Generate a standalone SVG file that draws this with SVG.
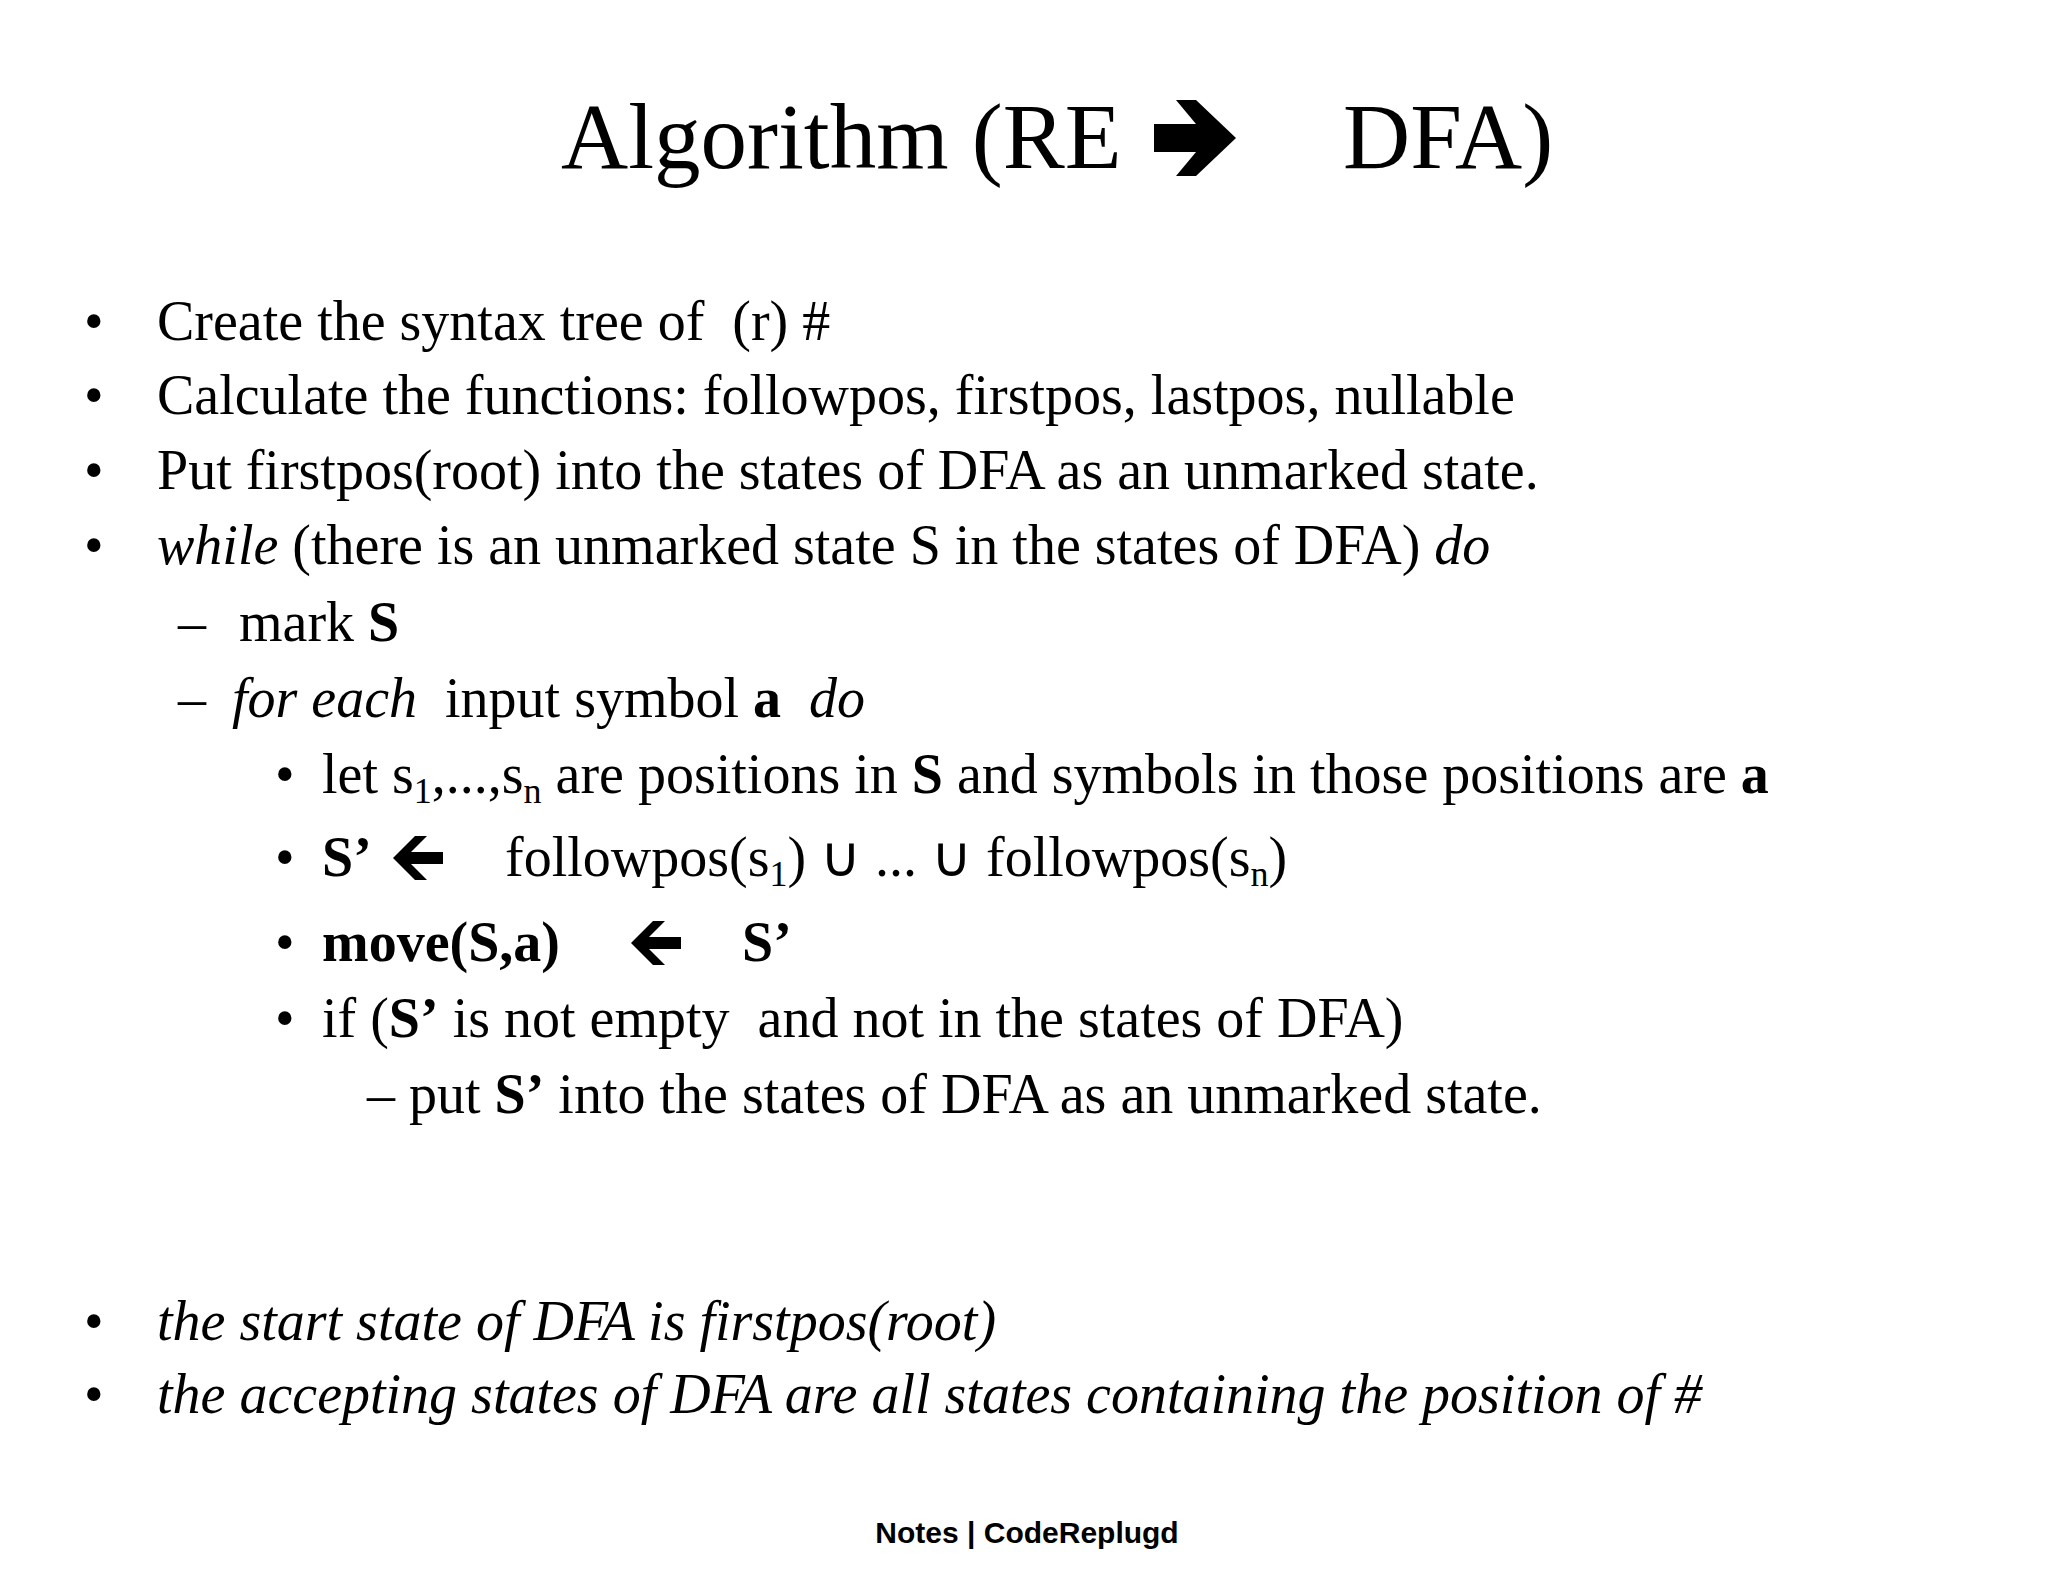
<svg xmlns="http://www.w3.org/2000/svg" width="2048" height="1582" viewBox="0 0 2048 1582">
<style>
text{font-family:"Liberation Serif","Times New Roman",serif;font-size:56px;fill:#000;white-space:pre}
.t{font-size:93px}
.b{font-weight:bold}
.i{font-style:italic}
.f{font-family:"Liberation Sans",Arial,sans-serif;font-size:30px;font-weight:600}
.sub{font-size:36px}
</style>
<defs>
<polygon id="la" points="0,0 22,-22 34,-22 18,-6 50,-6 50,6 18,6 34,22 22,22"/>
</defs>
<rect width="2048" height="1582" fill="#fff"/>
<g id="title">
<text class="t" x="561" y="168">Algorithm (RE</text>
<polygon points="1154,124 1196,124 1176,100 1196,100 1236,138 1196,176 1176,176 1196,152 1154,152"/>
<text class="t" x="1343" y="168">DFA)</text>
</g>
<g id="body">
<text x="84" y="340">•</text><text x="157" y="340">Create the syntax tree of  (r) #</text>
<text x="84" y="414">•</text><text x="157" y="414">Calculate the functions: followpos, firstpos, lastpos, nullable</text>
<text x="84" y="489">•</text><text x="157" y="489">Put firstpos(root) into the states of DFA as an unmarked state.</text>
<text x="84" y="564">•</text><text x="157" y="564"><tspan class="i">while</tspan> (there is an unmarked state S in the states of DFA) <tspan class="i">do</tspan></text>
<text x="178" y="641">–</text><text x="239" y="641">mark <tspan class="b">S</tspan></text>
<text x="178" y="717">–</text><text x="232" y="717"><tspan class="i">for each</tspan>  input symbol <tspan class="b">a</tspan>  <tspan class="i">do</tspan></text>
<text x="275" y="793">•</text><text x="322" y="793">let s<tspan class="sub" dy="10">1</tspan><tspan dy="-10">,...,s</tspan><tspan class="sub" dy="10">n</tspan><tspan dy="-10"> are positions in </tspan><tspan class="b">S</tspan> and symbols in those positions are <tspan class="b">a</tspan></text>
<text x="275" y="876">•</text><text x="322" y="876" class="b">S’</text>
<use href="#la" x="393" y="858"/>
<text x="505" y="876">followpos(s<tspan class="sub" dy="10">1</tspan><tspan dy="-10">) ∪ ... ∪ followpos(s</tspan><tspan class="sub" dy="10">n</tspan><tspan dy="-10">)</tspan></text>
<text x="275" y="961">•</text><text x="322" y="961" class="b">move(S,a)</text>
<use href="#la" x="631" y="943"/>
<text x="742" y="961" class="b">S’</text>
<text x="275" y="1037">•</text><text x="322" y="1037">if (<tspan class="b">S’</tspan> is not empty  and not in the states of DFA)</text>
<text x="367" y="1113">– put <tspan class="b">S’</tspan> into the states of DFA as an unmarked state.</text>
<text x="84" y="1340">•</text><text x="157" y="1340" class="i">the start state of DFA is firstpos(root)</text>
<text x="84" y="1413">•</text><text x="157" y="1413" class="i">the accepting states of DFA are all states containing the position of #</text>
</g>
<g id="footer"><text class="f" x="1027" y="1543" text-anchor="middle">Notes | CodeReplugd</text></g>
</svg>
